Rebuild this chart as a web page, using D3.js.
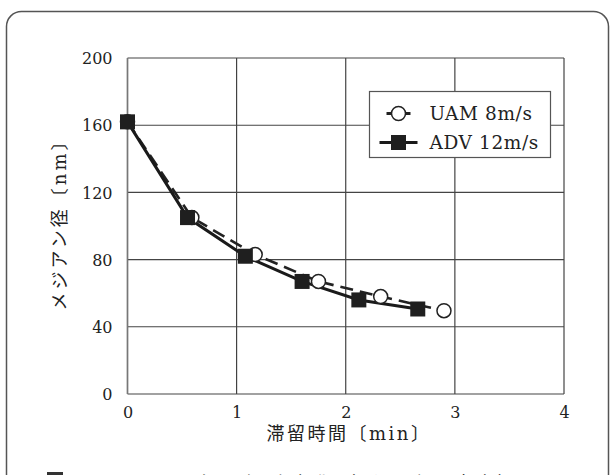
<!DOCTYPE html>
<html>
<head>
<meta charset="utf-8">
<script src="https://cdn.jsdelivr.net/npm/d3@7"></script>
<style>
  body { margin: 0; background: #fff; }
  svg { display: block; }
  .serif { font-family: "DejaVu Serif", "Liberation Serif", "Noto Sans CJK JP", serif; fill: #222; }
  .cjk { font-family: "Noto Sans CJK JP", sans-serif; fill: #333; }
</style>
</head>
<body>
<div id="chart"></div>
<script>
// residence time [min] and median diameter [nm]
const uamTime = [0, 0.59, 1.17, 1.75, 2.32, 2.90];
const uamSize = [162, 105, 83, 67, 58, 49.6];
const advTime = [0, 0.55, 1.08, 1.60, 2.12, 2.66];
const advSize = [162, 105, 82, 67, 56, 50.6];

const xTicks = [0, 1, 2, 3, 4];
const yTicks = [0, 40, 80, 120, 160, 200];
const seriesNames = ["UAM 8m/s", "ADV 12m/s"];

const width = 611, height = 475;
const plot = {left: 127.5, right: 564, top: 58, bottom: 394};

const svg = d3.select("#chart").append("svg")
    .attr("width", width)
    .attr("height", height);

// outer frame (bottom runs off the picture)
svg.append("rect")
    .attr("x", 6.5).attr("y", 11.5)
    .attr("width", 602).attr("height", 490)
    .attr("rx", 15)
    .attr("fill", "none")
    .attr("stroke", "#555")
    .attr("stroke-width", 1.5);

const x = d3.scaleLinear().domain([0, 4]).range([plot.left, plot.right]);
const y = d3.scaleLinear().domain([0, 200]).range([plot.bottom, plot.top]);

// grid
const grid = svg.append("g");
grid.selectAll(".gx").data(xTicks).enter().append("line")
    .attr("x1", d => x(d)).attr("x2", d => x(d))
    .attr("y1", plot.top).attr("y2", plot.bottom)
    .attr("stroke", "#333").attr("stroke-width", 1.1);
grid.selectAll(".gy").data(yTicks).enter().append("line")
    .attr("x1", plot.left).attr("x2", plot.right)
    .attr("y1", d => y(d)).attr("y2", d => y(d))
    .attr("stroke", "#444").attr("stroke-width", 1.1);
svg.append("line")
    .attr("x1", plot.left).attr("x2", plot.left)
    .attr("y1", plot.top).attr("y2", plot.bottom)
    .attr("stroke", "#777").attr("stroke-width", 1.6);

// tick labels through d3 axes, axis lines hidden
const xAxis = svg.append("g")
    .attr("transform", `translate(0,${plot.bottom})`)
    .call(d3.axisBottom(x).tickValues(xTicks).tickFormat(d3.format("d")).tickSize(0));
const yAxis = svg.append("g")
    .attr("transform", `translate(${plot.left},0)`)
    .call(d3.axisLeft(y).tickValues(yTicks).tickFormat(d3.format("d")).tickSize(0).tickPadding(15));
[xAxis, yAxis].forEach(a => {
    a.select(".domain").remove();
    a.selectAll("text")
        .attr("class", "serif")
        .style("font-size", "16px")
        .attr("fill", "#222");
});
yAxis.selectAll("text").attr("dy", "0.36em");
xAxis.selectAll("text").attr("dy", 0).attr("y", 24);

// axis titles
svg.append("text")
    .attr("class", "serif")
    .attr("x", 349)
    .attr("y", 440)
    .attr("text-anchor", "middle")
    .style("font-size", "18px")
    .style("letter-spacing", "2.5px")
    .text("滞留時間〔min〕");

svg.append("text")
    .attr("class", "serif")
    .attr("transform", "translate(66,220) rotate(-90)")
    .attr("text-anchor", "middle")
    .style("font-size", "18px")
    .style("letter-spacing", "3px")
    .text("メジアン径〔nm〕");

// series
const uam = uamTime.map((t, i) => ({t, v: uamSize[i]}));
const adv = advTime.map((t, i) => ({t, v: advSize[i]}));
const line = d3.line().x(d => x(d.t)).y(d => y(d.v));

svg.append("path")
    .datum(uam)
    .attr("d", line)
    .attr("fill", "none")
    .attr("stroke", "#222")
    .attr("stroke-width", 2.6)
    .attr("stroke-dasharray", "13,7");

svg.append("path")
    .datum(adv)
    .attr("d", line)
    .attr("fill", "none")
    .attr("stroke", "#1a1a1a")
    .attr("stroke-width", 3);

svg.selectAll(".uam").data(uam).enter().append("circle")
    .attr("cx", d => x(d.t)).attr("cy", d => y(d.v))
    .attr("r", 7)
    .attr("fill", "#fff")
    .attr("stroke", "#222")
    .attr("stroke-width", 1.5);

const sq = 15;
svg.selectAll(".adv").data(adv).enter().append("rect")
    .attr("x", d => x(d.t) - sq / 2).attr("y", d => y(d.v) - sq / 2)
    .attr("width", sq).attr("height", sq)
    .attr("fill", "#1f1f1f");

// legend
const legend = svg.append("g").attr("transform", "translate(369.5,91.5)");
legend.append("rect")
    .attr("width", 181).attr("height", 66)
    .attr("fill", "#fff")
    .attr("stroke", "#555")
    .attr("stroke-width", 1.2);

const row1 = legend.append("g").attr("transform", "translate(29,22)");
row1.append("line").attr("x1", -12).attr("x2", -6).attr("stroke", "#222").attr("stroke-width", 3);
row1.append("line").attr("x1", 6).attr("x2", 12).attr("stroke", "#222").attr("stroke-width", 3);
row1.append("circle").attr("r", 7).attr("fill", "#fff").attr("stroke", "#222").attr("stroke-width", 1.5);

const row2 = legend.append("g").attr("transform", "translate(29,51)");
row2.append("line").attr("x1", -19).attr("x2", 19).attr("stroke", "#1a1a1a").attr("stroke-width", 3);
row2.append("rect").attr("x", -7.5).attr("y", -7.5).attr("width", 15).attr("height", 15).attr("fill", "#1f1f1f");

legend.selectAll(".lt").data(seriesNames).enter().append("text")
    .attr("class", "serif")
    .attr("x", 60)
    .attr("y", (d, i) => 28 + i * 29)
    .style("font-size", "18.5px")
    .style("letter-spacing", "0.6px")
    .text(d => d);

// caption, mostly below the picture edge as in the reference
svg.append("rect")
    .attr("x", 47).attr("y", 472).attr("width", 16).attr("height", 16)
    .attr("fill", "#333");
svg.append("text")
    .attr("class", "cjk")
    .attr("x", 70)
    .attr("y", 491)
    .style("font-size", "19px")
    .style("letter-spacing", "4px")
    .text("3　メジアン径の経時変化（ガス壁面速度）");
</script>
</body>
</html>
